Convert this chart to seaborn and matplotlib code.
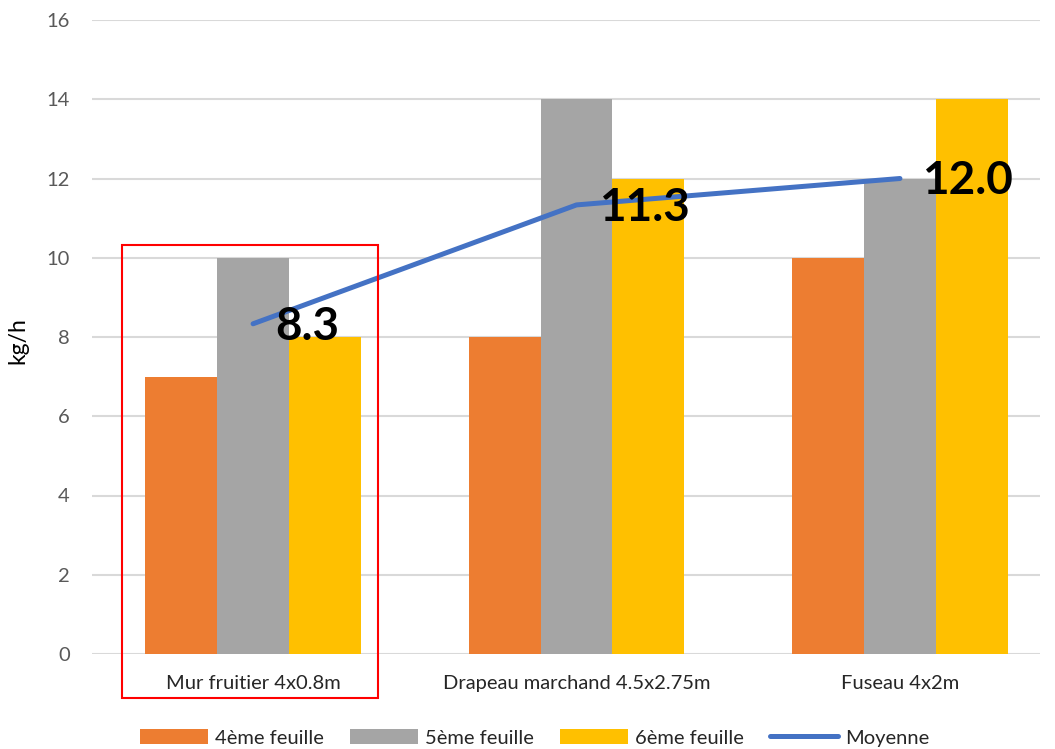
import pandas as pd
import matplotlib.pyplot as plt
import seaborn as sns
from matplotlib.patches import Rectangle, Patch
from matplotlib.lines import Line2D

# Data
categories = ['Mur fruitier 4x0.8m', 'Drapeau marchand 4.5x2.75m', 'Fuseau 4x2m']
feuille_4 = [7, 8, 10]
feuille_5 = [10, 14, 12]
feuille_6 = [8, 12, 14]
series_names = ['4ème feuille', '5ème feuille', '6ème feuille']
colors = ['#ED7D31', '#A5A5A5', '#FFC000']
line_color = '#4472C4'

df = pd.DataFrame({
    'categorie': categories * 3,
    'serie': [s for s in series_names for _ in categories],
    'valeur': feuille_4 + feuille_5 + feuille_6,
})
moyenne = df.groupby('categorie', sort=False)['valeur'].mean().reindex(categories)
df_moy = pd.DataFrame({'categorie': categories, 'moyenne': moyenne.values})

sns.set_style('white')
plt.rcParams['font.family'] = ['Lato', 'DejaVu Sans']

fig = plt.figure(figsize=(10.55, 7.49), dpi=100)
ax = fig.add_axes([92 / 1055, 1 - 654 / 749, (1040 - 92) / 1055, (654 - 20) / 749])

sns.barplot(data=df, x='categorie', y='valeur', hue='serie', palette=colors,
            width=0.667, gap=0, saturation=1, legend=False, linewidth=0,
            ax=ax, zorder=2)
ax.plot(range(len(categories)), df_moy['moyenne'], color=line_color, lw=3.6,
        solid_capstyle='round', zorder=3)

for i, v in enumerate(df_moy['moyenne']):
    ax.annotate(f'{v:.1f}', (i, v), xytext=(16, -2), textcoords='offset points',
                ha='left', va='center', fontsize=33, fontweight='bold', color='black',
                zorder=4)

ax.set_ylim(0, 16)
ax.set_xlim(-0.498, 2.433)
ax.set_yticks(range(0, 17, 2))
ax.yaxis.grid(True, color='#D9D9D9', lw=1.5, zorder=0)
ax.set_axisbelow(True)
for s in ax.spines.values():
    s.set_visible(False)
ax.tick_params(axis='y', length=0, pad=16, labelsize=14.5, labelcolor='#595959')
ax.tick_params(axis='x', length=0, pad=15, labelsize=14.5, labelcolor='#262626')
ax.set_xlabel('')
ax.set_ylabel('kg/h', fontsize=16.5, color='black')
ax.yaxis.set_label_coords(-0.0675, 0.495)

# red highlight box around first group
fig.patches.append(Rectangle((122 / 1055, 1 - 698 / 749), (378 - 122) / 1055,
                             (698 - 245) / 749, transform=fig.transFigure,
                             fill=False, edgecolor='#FF0000', lw=1.5, zorder=10))

handles = [Patch(facecolor=c, edgecolor='none') for c in colors]
handles.append(Line2D([0], [0], color=line_color, lw=3.6, solid_capstyle='round'))
fig.legend(handles, series_names + ['Moyenne'], loc='center', ncol=4,
           bbox_to_anchor=(0.507, 0.0147), frameon=False, fontsize=14.5,
           handlelength=3.37, handleheight=0.75, handletextpad=0.36, columnspacing=1.3,
           labelcolor='#262626')

fig.savefig('out.png', dpi=100)
